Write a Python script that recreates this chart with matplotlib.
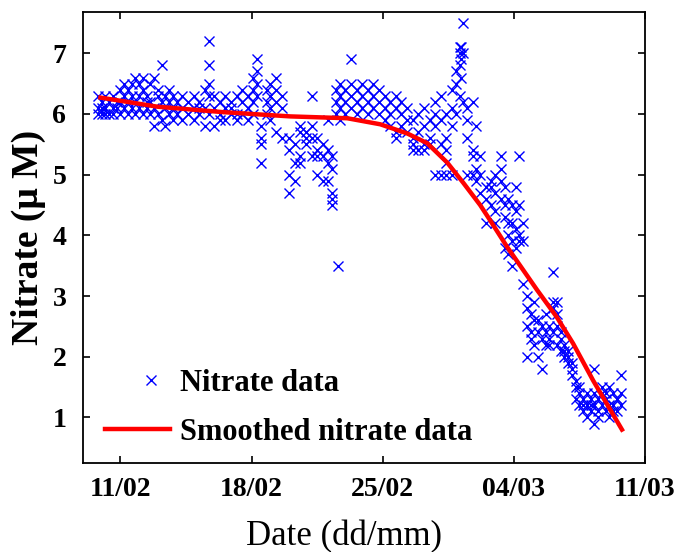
import matplotlib
matplotlib.use("Agg")
import matplotlib.pyplot as plt
from matplotlib.legend_handler import HandlerLine2D

# ---- data (days after 11/02, nitrate in µM) ----
day = [
 -1.2,-1.2,-1.2, -1.0,-1.0,-1.0, -0.8,-0.8,-0.8, -0.6,-0.6, -0.4,-0.4,-0.4, -0.2,-0.2,
 0.0,0.0,0.0, 0.2,0.2,0.2, 0.4,0.4,0.4, 0.6,0.6,0.6, 0.8,0.8,0.8, 1.0,1.0,1.0,
 1.2,1.2,1.2, 1.4,1.4,1.4, 1.6,1.6,1.6, 1.8,1.8,1.8, 2.0,2.0,2.0, 2.2,2.2,2.2,
 2.4,2.4,2.4, 2.6,2.6,2.6, 2.8,2.8,2.8, 3.0,3.0, 3.3,3.3,3.3, 3.6,3.6, 3.9,3.9,3.9,
 4.2,4.2,4.2, 4.5,4.5,4.5, 4.7,4.7,4.7,4.7,4.7, 5.0,5.0,5.0, 5.3,5.3,5.3,
 5.6,5.6,5.6, 5.9,5.9,5.9, 6.2,6.2,6.2, 6.5,6.5,6.5, 6.8,6.8,6.8,
 7.1,7.1,7.1,7.1, 7.3,7.3,7.3,7.3, 7.5,7.5,7.5,7.5, 7.8,7.8,7.8,
 8.0,8.0,8.0,8.0, 8.3,8.3,8.3,8.3, 8.6,8.6,8.6,
 9.0,9.0,9.0,9.0, 9.3,9.3,9.3, 9.6,9.6,9.6,9.6, 9.9,9.9,9.9, 10.2,10.2,10.2,10.2,
 10.5,10.5,10.5,10.5, 10.8,10.8,10.8, 11.1,11.1,11.1,11.1, 11.3,11.3,11.3,11.3,11.3,
 11.5,11.5,11.5,11.6,
 11.7,11.7,11.7,11.7, 12.0,12.0,12.0, 12.3,12.3,12.3,12.3, 12.6,12.6,12.6,
 12.9,12.9,12.9, 13.2,13.2,13.2, 13.5,13.5,13.5, 13.8,13.8,13.8, 14.1,14.1,14.1,
 14.4,14.4,14.4, 14.7,14.7,14.7,14.7, 15.0,15.0,15.0, 15.3,15.3,15.3,
 15.6,15.6,15.6,15.6, 15.9,15.9,15.9, 16.2,16.2,16.2,16.2, 16.5,16.5,16.5,
 16.8,16.8,16.8,16.8, 17.1,17.1,17.1,17.1, 17.4,17.4,17.4,17.4,17.4,
 17.7,17.7,17.7,17.7, 17.9,17.9,17.9, 18.1,18.1,18.1,18.1, 18.2,18.2,18.2,
 18.3,18.3,18.3, 18.5,18.5,18.5,18.5, 18.8,18.8,18.8,18.8, 19.0,19.0,19.0,
 19.2,19.2,19.2, 19.5,19.5,19.5, 19.8,19.8,19.8, 20.0,20.0,20.0,20.0,
 20.3,20.3,20.3,20.3, 20.5,20.5,20.5,20.5, 20.7,20.7,20.7,20.7,
 20.9,20.9,20.9,20.9, 21.1,21.1,21.1,21.1, 21.3,21.3,21.3,21.3,
 21.5,21.5,21.5, 21.7,21.7,21.7,21.7, 21.9,21.9,21.9, 22.1,22.1,22.1,
 22.3,22.3,22.3, 22.5,22.5,22.5, 22.7,22.7,22.7, 22.9,22.9,22.9,
 23.1,23.1,23.1,23.1, 23.3,23.3,23.3,23.3, 23.5,23.5,23.5, 23.7,23.7,23.7,
 23.9,23.9,23.9, 24.1,24.1,24.1, 24.3,24.3,24.3, 24.5,24.5,24.5,
 24.7,24.7,24.7, 24.9,24.9,24.9, 25.1,25.1,25.1, 25.3,25.3,25.3,25.3,
 25.5,25.5,25.5, 25.7,25.7,25.7, 25.9,25.9,25.9, 26.1,26.1,26.1,
 26.3,26.3,26.3, 26.5,26.5,26.5, 26.7,26.7,26.7,
]
nitrate = [
 6.3,6.1,6.0, 6.2,6.0,6.1, 6.3,6.1,6.0, 6.2,6.0, 6.1,6.3,6.0, 6.2,6.1,
 6.4,6.0,6.2, 6.5,6.1,6.3, 6.4,6.0,6.2, 6.3,6.5,6.1, 6.6,6.2,6.0, 6.5,6.3,6.1,
 6.4,6.6,6.0, 6.3,6.2,6.1, 6.5,6.0,6.2, 6.6,6.1,5.8, 6.4,6.3,6.0, 6.8,6.2,5.9,
 6.3,6.1,5.8, 6.4,6.2,6.0, 6.3,6.1,5.9, 6.2,6.0, 6.3,6.1,5.9, 6.2,6.0, 6.3,6.1,5.9,
 6.2,6.0,6.1, 6.4,6.1,5.8, 7.2,6.8,6.5,6.3,6.0, 6.3,6.1,5.8, 6.2,6.0,5.9,
 6.3,6.1,5.9, 6.2,6.0,6.1, 6.3,6.0,5.9, 6.4,6.2,6.0, 6.3,6.1,5.9,
 6.6,6.4,6.2,6.0, 6.9,6.7,6.5,6.3, 5.8,5.6,5.5,5.2, 6.4,6.2,6.0,
 6.5,6.3,6.1,5.9, 6.6,6.4,6.2,5.7, 6.3,6.1,5.6,
 5.6,5.4,5.0,4.7, 5.5,5.2,4.9, 5.8,5.7,5.3,5.2, 5.7,5.6,5.5, 5.8,5.6,5.3,6.3,
 5.6,5.4,5.3,5.0, 5.5,5.3,4.9, 5.9,5.4,5.2,4.9, 5.3,5.1,4.7,4.6,4.5,
 6.4,6.2,6.0,3.5,
 6.5,6.3,6.1,5.9, 6.4,6.2,6.0, 6.9,6.5,6.3,6.1, 6.4,6.2,6.0,
 6.5,6.3,6.1, 6.4,6.2,6.0, 6.5,6.3,6.1, 6.4,6.2,6.0, 6.3,6.1,5.9,
 6.2,6.0,5.8, 6.3,6.1,5.7,5.6, 6.2,6.0,5.8, 6.1,5.9,5.7,
 5.9,5.6,5.5,5.4, 6.0,5.7,5.4, 6.1,5.8,5.5,5.4, 5.9,5.6,5.5,
 6.2,6.0,5.8,5.0, 6.3,5.9,5.5,5.0, 6.0,5.6,5.4,5.0,5.2,
 6.1,6.4,5.8,5.0, 6.5,6.7,6.0, 6.8,7.0,7.1,6.3, 7.1,6.9,6.6,
 7.5,7.0,6.2, 6.1,5.9,5.6,5.0, 6.2,5.4,5.3,5.0, 5.8,5.1,4.9,
 5.3,5.0,4.7, 4.8,4.6,4.2, 4.9,4.8,4.5, 5.0,4.7,4.4,4.2,
 5.3,5.1,4.9,4.6, 4.8,4.5,4.3,3.8, 4.6,4.2,4.0,3.7,
 4.5,4.2,3.9,3.5, 4.8,4.4,4.1,3.8, 5.3,4.5,4.0,3.9,
 4.2,3.9,3.2, 3.0,2.8,2.5,2.0, 2.7,2.4,2.3, 2.9,2.6,2.2,
 2.6,2.4,2.0, 2.5,2.3,1.8, 2.7,2.4,2.2, 2.5,2.3,2.2,
 3.4,2.9,2.8,2.4, 2.9,2.7,2.5,2.2, 2.4,2.3,2.1, 2.2,2.1,2.0,
 2.1,1.9,2.0, 1.9,1.8,1.7, 1.6,1.5,1.3, 1.4,1.2,1.5,
 1.3,1.1,1.2, 1.4,1.2,1.0, 1.3,1.1,1.2, 1.8,1.4,1.2,0.9,
 1.3,1.1,1.0, 1.4,1.2,1.5, 1.3,1.1,1.4, 1.5,1.2,1.0,
 1.4,1.2,1.1, 1.3,1.1,1.3, 1.7,1.2,1.4,
]

smooth_day = [-1.07, 1.97, 5.49, 9.07, 12.1, 13.87, 15.3, 16.37, 17.44, 18.29,
              19.2, 19.73, 20.64, 22.24, 23.3, 24.16, 25.23, 26.77]
smooth_val = [6.27, 6.12, 6.03, 5.96, 5.93, 5.83, 5.68, 5.52, 5.2, 4.87,
              4.5, 4.25, 3.81, 3.1, 2.65, 2.22, 1.61, 0.8]

tick_days = [0, 7, 14, 21, 28]
tick_labels = ["11/02", "18/02", "25/02", "04/03", "11/03"]
y_ticks = [1, 2, 3, 4, 5, 6, 7]

plt.rcParams['font.family'] = ['Liberation Serif', 'DejaVu Serif']


class ShiftedMarker(HandlerLine2D):
    """Place the single legend marker a little right of the handle centre."""
    def create_artists(self, legend, orig_handle, xdescent, ydescent,
                       width, height, fontsize, trans):
        return super().create_artists(legend, orig_handle, xdescent - 9.5,
                                      ydescent, width, height, fontsize, trans)


fig = plt.figure(figsize=(6.78, 5.52), dpi=100)
ax = fig.add_axes([83/678, 1-463/552, (645-83)/678, (463-12)/552])

data_line, = ax.plot(day, nitrate, linestyle='none', marker='x', color='#0000ff',
                     markersize=7, markeredgewidth=1.0, label='Nitrate data')
ax.plot(smooth_day, smooth_val, color='#ff0000', linewidth=3.2,
        label='Smoothed nitrate data')

ax.set_xlim(-2, 28)
ax.set_ylim(0.25, 7.68)
ax.set_xticks(tick_days)
ax.set_xticklabels(tick_labels)
ax.set_yticks(y_ticks)

ax.tick_params(direction='in', length=5, width=1.2, top=True, right=True,
               labeltop=False, labelright=False, labelsize=20)
ax.tick_params(axis='x', pad=10)
ax.tick_params(axis='y', pad=12)
for lab in ax.get_xticklabels() + ax.get_yticklabels():
    lab.set_fontweight('bold')
for s in ax.spines.values():
    s.set_linewidth(1.3)

ax.set_xlabel('Date (dd/mm)', fontsize=25, labelpad=13, x=0.465)
ax.set_ylabel('Nitrate (\u03bc M)', fontsize=27, fontweight='bold', labelpad=5)

leg = ax.legend(loc='lower left', frameon=False, prop={'size': 22, 'weight': 'bold'},
                handlelength=2.1, handletextpad=0.35, labelspacing=0.65,
                borderpad=0.0, bbox_to_anchor=(0.0126, 0.002),
                handler_map={data_line: ShiftedMarker()})

fig.savefig('out.png', dpi=100)
